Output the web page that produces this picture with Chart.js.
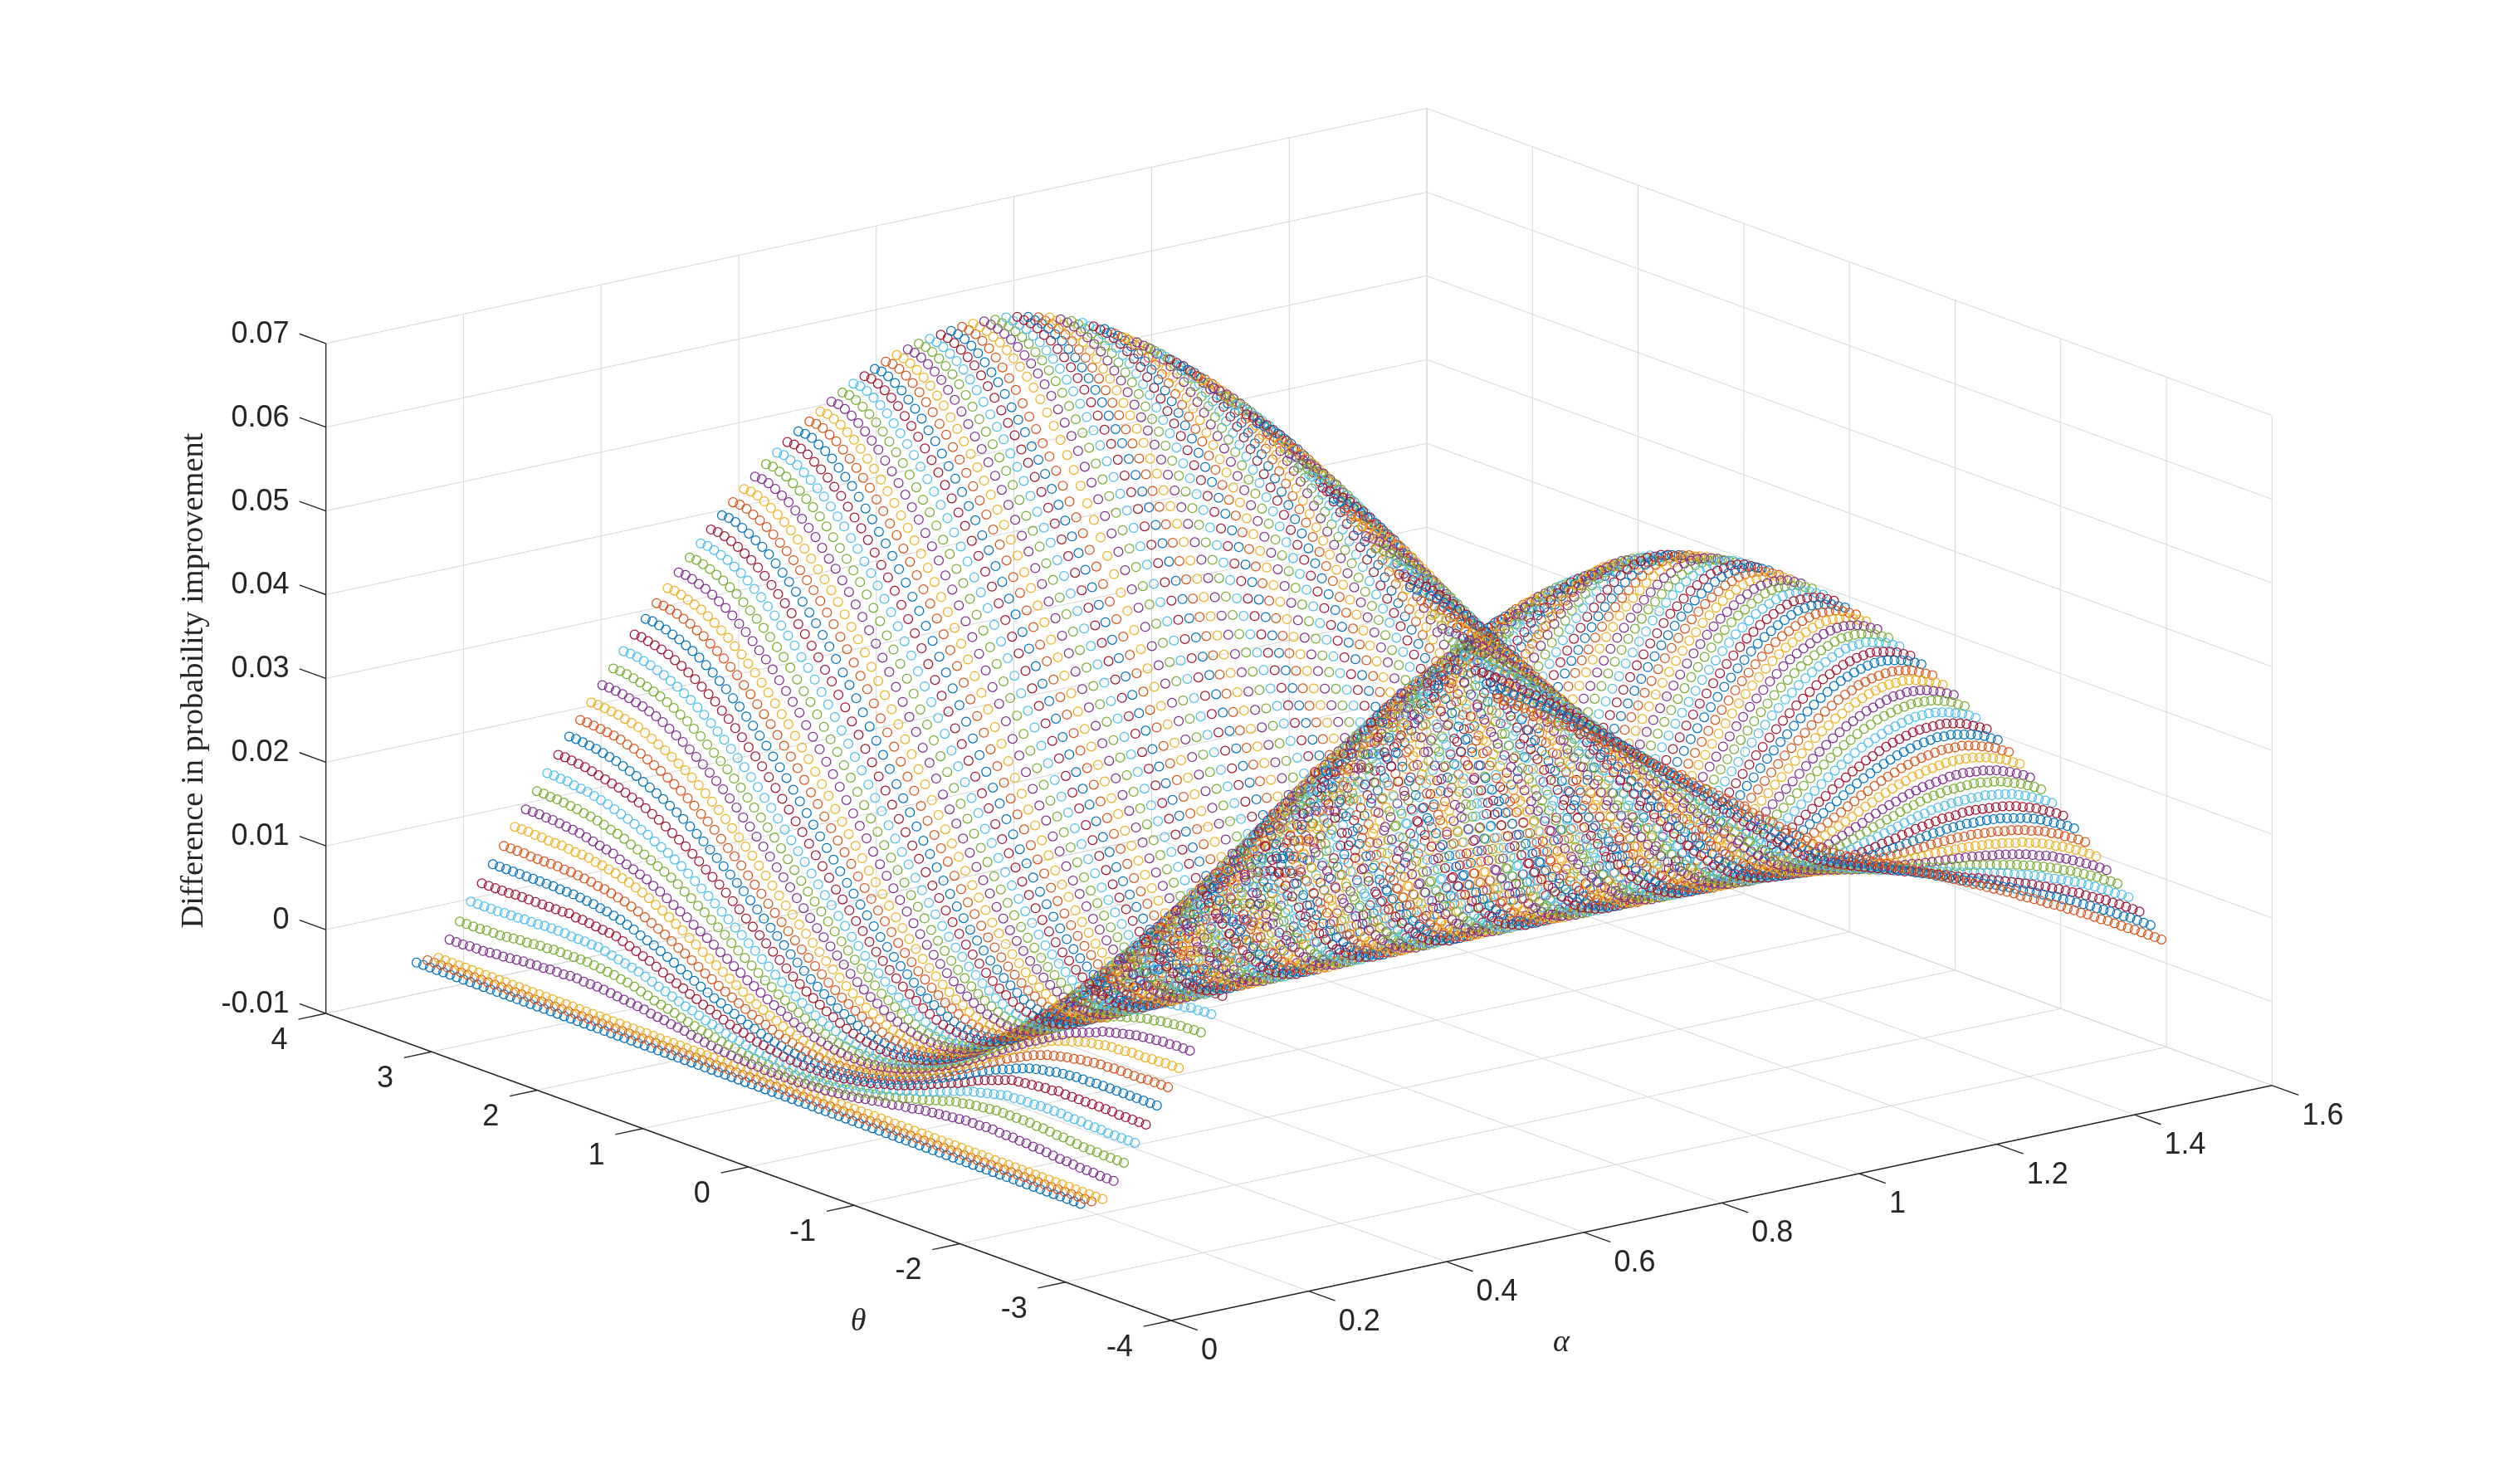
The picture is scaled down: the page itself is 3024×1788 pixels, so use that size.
<!DOCTYPE html>
<html>
<head>
<meta charset="utf-8">
<title>Difference in probability improvement</title>
<script src="https://cdn.jsdelivr.net/npm/chart.js@4"></script>
<style>
html, body { margin: 0; padding: 0; background: #fff; }
canvas { display: block; }
</style>
</head>
<body>
<canvas id="surface" width="3024" height="1788"></canvas>
<script>
const alphas = [0,.016,.032,.048,.063,.079,.095,.111,.127,.143,.159,.175,.190,.206,.222,.238,.254,.270,.286,.301,.317,.333,.349,.365,.381,.397,.413,.428,.444,.460,.476,.492,.508,.524,.539,.555,.571,.587,.603,.619,.635,.651,.666,.682,.698,.714,.730,.746,.762,.777,.793,.809,.825,.841,.857,.873,.889,.904,.920,.936,.952,.968,.984,1.000,1.015,1.031,1.047,1.063,1.079,1.095,1.111,1.127,1.142,1.158,1.174,1.190,1.206,1.222,1.238,1.253,1.269,1.285,1.301,1.317,1.333,1.349,1.365,1.380,1.396,1.412,1.428,1.444,1.460,1.476,1.491,1.507,1.523,1.539,1.555,1.571];
const thetas = [-3.142,-3.078,-3.015,-2.951,-2.888,-2.824,-2.761,-2.698,-2.634,-2.570,-2.507,-2.443,-2.380,-2.316,-2.253,-2.190,-2.126,-2.063,-1.999,-1.936,-1.872,-1.809,-1.745,-1.682,-1.618,-1.555,-1.491,-1.428,-1.364,-1.301,-1.237,-1.174,-1.110,-1.047,-0.983,-0.920,-0.856,-0.793,-0.729,-0.666,-0.603,-0.539,-0.476,-0.412,-0.349,-0.285,-0.222,-0.159,-0.095,-0.032,0.032,0.095,0.159,0.222,0.285,0.349,0.412,0.476,0.539,0.603,0.666,0.729,0.793,0.856,0.920,0.983,1.047,1.110,1.174,1.237,1.301,1.364,1.428,1.491,1.555,1.618,1.682,1.745,1.809,1.872,1.936,1.999,2.063,2.126,2.190,2.253,2.316,2.380,2.443,2.507,2.570,2.634,2.698,2.761,2.824,2.888,2.951,3.015,3.078,3.142];

// estimates, in units of 0.0001, one row per alpha
// only theta<0 is typed, the surface reads the same on the other side of theta=0
const zHalf = [
[0,0,0,0,0,0,0,0,0,0,0,0,0,0,0,0,0,0,0,0,0,0,0,0,0,0,0,0,0,0,0,0,0,0,0,0,0,0,0,0,0,0,0,0,0,0,0,0,0,0],
[0,0,0,0,0,0,0,0,0,0,0,0,0,0,0,0,0,0,0,0,0,0,0,0,0,0,0,0,0,0,0,0,0,0,0,0,0,0,0,0,0,0,0,0,0,0,0,0,0,0],
[0,0,0,0,0,0,0,0,0,0,0,0,0,0,0,0,0,0,0,0,0,0,0,0,0,0,0,0,0,0,0,0,0,0,0,0,0,0,0,0,0,0,0,0,0,0,0,0,0,0],
[19,19,19,20,20,20,21,22,22,23,24,25,25,26,26,27,27,27,28,28,27,27,27,26,25,24,23,22,21,20,18,17,16,14,13,12,10,9,7,6,5,4,3,2,2,1,1,0,0,0],
[38,38,38,38,39,39,39,40,41,42,42,43,44,44,45,45,45,45,45,45,44,43,42,41,39,38,36,33,31,28,26,24,22,19,17,15,13,12,10,8,7,6,4,3,2,2,1,0,0,0],
[59,59,59,59,59,60,60,60,61,61,61,62,62,62,62,61,61,61,60,60,58,56,54,52,50,48,45,42,39,36,33,30,27,25,22,19,17,15,12,10,9,7,5,4,3,2,1,1,0,0],
[78,78,78,78,78,79,79,79,79,79,79,79,79,80,78,78,77,76,75,74,73,70,67,64,61,58,54,50,46,43,40,36,33,29,26,23,20,17,15,13,10,8,7,5,4,2,1,1,0,0],
[98,98,98,98,98,98,98,98,98,98,97,97,97,96,95,94,92,91,89,87,84,81,77,74,71,67,63,59,54,50,46,42,38,34,31,27,24,20,17,15,12,10,8,6,4,3,2,1,0,0],
[117,117,117,117,116,116,116,116,116,115,115,114,113,112,110,109,107,105,103,100,97,93,89,85,81,76,71,67,62,57,52,48,43,39,35,31,27,23,20,17,14,11,9,7,5,3,2,1,0,0],
[137,137,137,136,136,135,135,135,134,133,133,132,130,129,127,125,122,120,117,114,110,105,101,96,91,86,80,75,69,64,59,54,49,44,39,34,30,26,22,19,15,12,10,7,5,4,2,1,0,0],
[155,155,155,154,154,153,152,151,150,148,146,144,142,140,136,133,130,127,124,119,115,110,105,100,96,90,85,80,75,69,64,58,53,47,43,38,33,29,25,21,17,14,11,8,6,4,2,1,0,0],
[174,174,173,173,172,171,170,168,167,165,163,160,158,155,151,148,145,141,137,133,129,124,118,113,107,102,96,90,84,77,71,65,59,53,47,42,36,32,27,23,19,15,12,9,6,4,3,1,0,0],
[193,193,192,192,190,189,188,186,184,182,179,176,173,170,166,163,158,154,150,145,140,134,128,122,116,110,103,97,90,84,77,71,64,58,51,45,40,34,29,25,20,16,13,10,7,5,3,1,0,0],
[212,212,211,210,209,207,205,203,201,199,196,193,190,186,182,178,173,168,163,158,152,146,139,133,127,120,113,106,98,91,84,77,70,63,56,49,43,37,32,27,22,18,14,10,7,5,3,2,0,0],
[231,231,230,229,228,226,224,222,219,216,213,209,205,201,197,192,187,182,176,170,164,157,150,143,136,129,122,114,106,98,90,83,75,67,60,53,46,40,34,29,23,19,15,11,8,5,3,2,0,0],
[248,248,247,246,245,244,242,239,237,234,230,226,222,217,212,207,201,195,188,182,175,167,159,152,144,135,127,119,110,102,94,86,78,70,63,56,49,42,36,30,25,20,16,12,9,6,3,2,1,0],
[266,266,265,264,263,261,259,257,253,249,245,241,236,231,226,220,214,207,200,193,185,177,169,161,153,144,135,126,117,108,100,91,83,75,67,59,52,45,38,32,26,21,17,13,9,6,4,2,1,0],
[284,284,283,282,280,278,276,273,270,266,261,256,251,245,239,233,226,219,212,204,196,187,179,170,161,152,142,133,124,114,105,96,87,79,71,63,55,47,40,34,28,23,18,13,10,6,4,2,1,0],
[301,301,300,298,296,294,291,288,284,280,275,270,264,258,251,244,237,230,222,214,205,196,187,178,169,159,149,139,129,119,110,101,92,83,74,66,58,50,43,36,29,24,19,14,10,7,4,2,1,0],
[319,319,318,316,314,311,308,304,300,295,290,284,278,271,264,257,249,241,233,224,215,205,196,186,176,166,156,146,135,125,115,106,96,87,77,69,60,52,45,38,31,25,20,15,11,7,4,2,1,0],
[336,336,334,332,330,327,323,319,314,309,303,297,291,283,276,268,260,251,243,234,224,214,204,194,183,173,162,151,141,130,119,110,100,90,81,71,62,54,46,39,32,26,21,15,11,7,4,2,1,0],
[352,352,350,348,345,342,338,334,329,323,317,310,303,295,288,279,271,262,253,243,233,223,212,201,190,179,168,157,146,135,124,114,104,94,84,74,65,56,48,41,34,27,21,16,12,8,5,2,1,0],
[368,368,366,364,361,358,353,349,343,337,331,324,317,308,300,291,282,273,263,253,243,232,221,209,198,186,175,163,152,141,129,118,108,97,87,77,67,58,50,42,35,28,22,16,12,8,5,2,1,0],
[383,383,381,378,375,372,367,362,356,350,343,336,328,320,311,302,292,282,273,262,251,240,228,216,205,192,180,168,157,145,133,122,111,100,89,79,69,60,51,43,36,29,23,17,13,8,5,2,1,0],
[399,399,397,394,391,387,382,377,371,364,357,349,341,333,324,314,304,294,284,272,261,249,237,225,213,200,187,175,163,150,138,127,115,104,93,82,72,62,53,45,37,30,24,18,13,9,5,3,1,0],
[414,414,412,409,405,401,396,391,384,377,370,362,354,345,336,326,315,304,294,282,270,258,246,233,221,207,194,181,168,155,143,131,119,107,96,85,74,64,55,46,38,31,24,18,13,9,5,3,1,0],
[428,428,426,423,420,415,410,404,397,390,382,374,365,356,347,336,326,315,303,291,279,266,253,240,227,213,200,187,173,160,147,135,122,110,98,87,76,66,56,48,39,32,25,19,13,9,5,3,1,0],
[442,442,440,437,433,428,423,417,410,402,394,386,377,367,358,347,336,324,313,300,288,274,261,247,234,220,206,192,178,165,152,139,126,113,101,89,78,67,57,48,40,32,25,19,14,9,5,3,1,0],
[456,456,454,450,446,441,436,430,422,414,406,397,388,378,368,357,346,334,321,309,296,282,268,254,240,226,211,197,183,169,155,142,129,116,103,91,80,69,59,50,41,33,26,20,14,9,6,3,1,0],
[469,469,467,463,459,454,448,441,434,426,417,408,399,389,378,367,355,343,330,317,304,290,275,261,247,232,217,203,188,173,159,146,133,119,106,93,82,71,60,51,42,34,27,20,14,10,6,3,1,0],
[482,482,480,476,471,466,460,453,445,437,428,418,409,399,388,376,364,352,339,325,311,297,283,268,253,238,223,208,192,177,163,149,136,122,108,96,84,72,62,52,43,35,27,21,15,10,6,3,1,0],
[494,494,492,488,483,478,471,464,456,448,438,428,419,408,397,385,373,360,347,333,319,304,289,274,259,243,228,212,196,181,167,152,138,124,111,98,85,74,63,53,44,35,28,21,15,10,6,3,1,0],
[506,506,503,500,495,489,482,475,467,458,448,438,428,417,406,394,381,368,354,340,326,311,296,280,265,249,233,217,201,185,170,155,141,127,113,100,87,75,64,54,45,36,28,21,15,10,6,3,1,0],
[517,517,514,511,505,499,492,485,476,467,458,447,437,425,414,402,389,376,362,347,333,317,302,286,270,254,237,221,205,189,174,158,144,129,115,102,89,77,66,55,45,37,29,22,15,10,6,3,1,0],
[527,527,525,521,515,509,502,494,486,476,466,456,445,433,421,409,396,382,368,354,339,323,307,291,275,258,242,225,209,192,177,161,146,132,118,104,91,78,67,56,46,37,30,22,16,11,6,3,1,0],
[537,537,535,530,525,519,511,503,495,485,474,464,452,441,429,416,403,389,375,360,345,329,313,297,280,263,246,229,212,196,180,164,149,134,120,106,92,80,68,57,47,38,30,23,16,11,6,3,1,0],
[546,546,544,539,534,527,519,511,502,493,482,471,459,448,435,422,409,395,381,366,350,334,318,301,284,267,250,233,216,199,183,167,152,136,122,108,94,81,69,58,48,39,31,23,16,11,7,3,1,0],
[555,555,552,548,542,536,528,519,510,500,489,478,466,454,442,429,415,401,386,371,355,339,323,306,289,272,254,237,219,202,186,170,154,139,124,109,95,83,70,59,49,39,31,23,17,11,7,3,1,0],
[564,564,561,556,550,543,535,527,517,507,496,485,473,461,448,435,421,406,392,376,360,344,327,310,293,276,258,240,223,206,189,172,157,141,126,111,97,84,72,60,50,40,32,24,17,11,7,3,1,0],
[572,572,569,564,558,551,543,534,524,514,503,491,479,467,454,440,426,411,397,381,365,349,332,315,297,280,262,243,226,208,191,175,159,143,128,113,98,85,73,61,50,41,32,24,17,11,7,3,1,0],
[580,580,577,572,566,559,550,541,531,521,510,498,486,473,460,446,432,417,401,386,370,353,336,319,301,283,265,248,229,211,194,177,161,145,129,114,100,86,74,62,51,41,32,24,17,12,7,3,1,0],
[586,586,583,578,572,565,556,547,537,526,515,503,491,478,464,451,436,421,405,390,373,356,339,322,304,286,268,250,232,214,196,179,163,146,131,115,101,87,74,63,52,42,33,25,18,12,7,4,1,0],
[592,592,589,584,578,570,562,553,542,532,520,508,496,483,469,455,440,425,409,393,376,360,342,325,307,289,271,253,234,216,198,181,165,148,132,117,102,88,75,63,52,42,33,25,18,12,7,4,1,0],
[598,598,595,590,584,576,567,558,547,537,525,513,500,487,473,459,444,429,413,396,380,362,345,327,310,291,273,255,236,218,200,183,166,149,133,118,103,89,76,64,53,42,33,25,18,12,7,4,1,0],
[603,602,599,594,588,581,572,563,552,541,529,517,504,491,477,462,447,432,416,399,383,365,348,330,312,293,275,256,238,220,201,184,167,151,134,119,104,90,77,65,53,43,34,25,18,12,7,4,1,0],
[607,606,603,598,592,585,576,567,556,544,532,520,507,494,480,465,450,434,418,401,385,367,350,332,314,295,277,258,239,221,203,185,168,152,135,120,104,90,77,65,53,43,34,25,18,12,7,4,1,0],
[611,610,607,602,596,589,580,570,559,547,535,523,510,497,483,468,452,437,421,404,387,369,352,334,315,297,278,259,241,222,204,186,169,152,136,120,105,91,78,65,54,43,34,26,18,12,7,4,1,0],
[614,613,610,605,599,592,583,573,562,550,538,526,512,499,485,470,454,438,423,405,389,371,353,335,317,298,279,260,242,223,205,187,170,153,137,121,106,91,78,66,54,44,34,26,18,12,7,4,1,0],
[616,615,612,607,601,594,585,575,564,552,540,528,514,501,487,472,456,440,424,407,390,372,354,336,318,299,280,261,242,224,205,188,171,153,137,121,106,92,78,66,54,44,35,26,18,12,7,4,1,0],
[618,617,614,609,603,595,586,577,566,553,541,529,515,502,488,473,457,441,425,408,391,373,355,337,319,300,281,262,243,225,206,188,171,154,138,122,106,92,78,66,54,44,35,26,19,12,7,4,1,0],
[620,619,617,612,606,598,589,579,568,555,542,530,516,503,489,474,458,442,426,409,392,374,356,338,320,301,282,263,244,226,207,189,172,155,138,122,107,92,79,66,55,44,35,26,19,12,7,4,1,0],
[621,620,618,614,610,604,597,590,581,571,560,547,534,520,505,490,474,456,439,421,402,383,364,345,325,305,285,266,246,227,208,190,172,155,138,122,107,92,79,66,55,44,35,26,19,12,7,4,1,0],
[621,620,618,615,611,605,598,591,582,572,561,548,535,522,507,491,475,458,441,423,404,385,365,346,326,306,286,267,247,228,209,191,173,156,139,123,107,93,80,67,55,45,35,27,19,13,8,4,1,0],
[620,619,618,615,611,606,599,592,583,573,562,549,536,523,508,492,476,459,442,424,405,386,366,347,327,307,287,267,247,228,209,191,173,156,139,123,108,93,80,67,55,45,35,27,19,13,8,4,1,0],
[620,619,617,615,610,605,598,591,582,572,561,549,536,523,508,492,476,459,442,424,405,386,366,347,327,307,286,267,247,228,209,191,173,156,139,123,108,93,80,67,55,45,35,27,19,13,8,4,1,0],
[618,617,616,613,608,604,597,590,581,571,560,548,535,521,507,491,475,458,441,423,404,385,365,346,326,306,286,266,247,228,209,190,172,155,138,123,108,93,80,67,55,45,35,27,19,13,8,5,2,1],
[615,614,613,610,606,601,594,587,578,568,557,545,532,519,505,489,473,456,440,422,403,384,364,345,325,305,285,266,246,227,208,190,172,155,138,122,107,93,79,67,55,44,35,26,19,13,8,5,2,1],
[612,611,610,607,603,598,591,584,575,565,554,542,530,516,502,487,471,454,438,420,401,382,363,343,324,304,284,264,244,225,206,188,171,154,137,121,106,92,79,66,55,44,35,26,19,13,8,5,2,1],
[609,608,606,603,599,594,587,580,571,562,551,539,527,514,500,484,469,452,436,418,399,380,361,342,322,302,282,263,243,224,205,187,170,153,136,121,106,92,78,66,55,44,35,26,19,13,8,5,2,1],
[604,603,601,598,594,589,583,575,566,557,546,534,522,509,495,480,465,449,432,415,396,378,359,339,320,300,280,261,241,222,204,186,168,152,135,120,105,91,78,65,54,44,34,26,19,13,8,5,2,1],
[599,598,596,593,589,584,578,570,561,552,541,529,517,505,491,476,461,445,428,411,393,375,356,337,318,298,279,259,240,221,203,185,167,150,134,119,104,90,77,65,54,43,34,26,19,13,8,5,2,1],
[594,593,592,589,585,579,573,566,557,547,537,525,513,500,486,470,455,439,423,405,387,369,351,332,314,295,276,258,239,221,203,185,168,152,136,120,106,91,79,67,55,45,35,27,20,14,9,5,2,0],
[587,586,585,582,578,572,566,559,550,540,530,518,506,494,480,465,450,434,418,401,383,365,347,329,311,292,273,255,237,219,201,183,167,151,135,119,105,90,78,66,55,44,34,26,19,13,8,5,2,0],
[581,580,579,576,572,566,560,553,544,534,524,513,501,488,474,460,445,429,413,396,379,361,343,325,307,288,270,252,234,216,198,181,165,149,133,118,104,89,77,65,54,43,34,26,19,13,8,4,2,0],
[573,572,571,568,564,559,553,545,537,527,517,506,494,482,468,454,439,424,408,391,374,356,339,321,303,285,267,249,231,213,196,179,163,147,132,117,103,88,76,64,53,43,33,25,19,13,8,4,2,0],
[565,564,563,560,556,551,545,538,529,520,510,499,487,475,461,448,433,418,402,386,369,352,334,317,299,281,263,246,228,211,193,177,161,145,130,115,101,87,75,63,52,42,33,25,18,13,8,4,2,0],
[557,556,555,552,548,543,537,530,521,512,502,491,480,468,455,441,427,412,396,380,364,347,330,313,295,277,260,243,225,208,191,175,159,144,128,114,100,86,74,63,52,41,32,25,18,12,8,4,2,0],
[548,547,546,543,539,535,529,522,513,504,494,484,473,461,448,434,420,405,390,374,358,342,325,308,291,273,256,239,222,205,188,172,157,142,127,112,99,85,73,62,51,41,32,24,18,12,8,4,2,0],
[538,537,536,533,529,525,519,512,504,495,486,475,464,453,440,427,413,399,384,368,352,336,320,303,286,269,252,235,218,202,185,170,154,140,125,111,97,84,72,61,50,40,32,24,17,12,8,4,2,0],
[528,527,526,523,520,515,510,503,495,486,477,467,456,445,432,419,406,392,377,362,347,331,315,298,281,265,248,231,215,199,182,167,152,138,123,109,96,83,71,60,49,40,31,24,17,12,7,4,2,0],
[517,516,515,512,509,505,499,493,485,476,467,457,447,436,424,411,398,384,370,355,340,325,309,293,276,260,243,227,211,195,179,164,149,135,121,107,94,82,70,59,49,39,31,23,17,12,7,4,2,0],
[506,505,504,502,498,494,489,482,475,466,457,448,438,427,415,403,390,377,363,348,334,319,303,287,271,255,239,223,207,192,176,161,147,133,119,106,93,80,69,58,48,39,31,23,17,12,7,4,2,0],
[495,494,493,491,487,483,478,472,464,456,448,438,429,418,407,395,382,369,356,342,327,312,297,282,266,251,235,219,204,188,173,158,144,130,117,104,91,79,68,57,47,38,30,23,17,11,7,4,2,0],
[483,482,481,479,476,472,467,461,454,446,437,428,419,409,398,386,374,361,348,335,320,306,291,276,261,246,231,215,200,185,170,156,142,128,115,102,90,78,67,57,47,38,30,23,16,11,7,4,2,0],
[470,469,468,466,463,459,454,449,442,434,426,417,408,398,387,376,364,352,339,326,312,298,284,270,255,240,225,210,195,181,166,152,139,125,112,100,88,76,65,55,46,37,29,22,16,11,7,4,2,0],
[457,456,455,453,450,447,442,437,431,423,415,406,398,388,378,367,355,344,331,319,305,292,278,264,249,235,220,206,191,177,163,149,136,123,110,98,86,75,64,54,45,37,29,22,16,11,7,4,2,0],
[443,442,441,439,436,433,429,423,417,410,403,394,386,377,367,356,345,334,322,310,297,284,270,257,243,229,215,201,187,173,159,146,133,120,108,96,84,73,63,53,44,36,29,22,16,11,7,4,2,0],
[430,429,428,426,423,420,416,411,405,398,391,383,375,366,356,346,335,324,313,301,288,276,263,250,236,222,209,195,182,168,155,142,130,117,105,94,83,72,62,52,44,35,28,21,16,11,7,4,2,0],
[414,413,412,411,408,405,401,396,390,384,377,370,361,353,344,334,324,313,302,290,278,266,254,241,228,215,202,189,176,163,150,138,126,114,102,91,80,70,60,51,43,35,28,21,15,11,7,4,2,1],
[400,399,398,396,394,391,387,382,377,371,364,357,349,341,332,322,313,302,292,281,269,257,245,233,220,208,195,183,170,158,146,134,122,111,99,88,78,68,58,50,42,34,27,21,15,11,7,4,2,1],
[385,384,383,381,379,376,372,368,362,357,350,343,335,328,319,310,301,291,281,270,259,248,236,224,212,200,188,176,164,152,140,129,118,107,96,85,75,66,57,48,41,33,26,20,15,10,7,4,2,1],
[369,368,368,366,364,361,357,353,348,342,336,329,322,315,306,298,289,279,270,259,249,238,227,216,204,192,181,169,158,147,135,124,114,103,93,83,73,64,55,47,39,32,26,20,15,10,7,4,2,1],
[352,352,351,349,347,344,341,337,332,327,321,314,307,300,292,284,276,267,258,248,238,228,217,206,195,184,173,162,151,141,130,119,109,99,89,79,70,62,53,46,38,31,25,19,14,10,7,4,2,1],
[336,335,334,333,331,328,325,321,316,311,306,300,293,286,279,271,263,254,246,236,227,217,207,197,186,176,165,155,145,134,124,114,105,95,86,77,68,60,52,44,37,30,24,19,14,10,6,4,2,1],
[320,319,319,317,315,312,309,306,301,297,291,285,279,272,265,258,250,242,234,225,216,207,197,187,177,167,157,148,138,128,119,109,100,91,82,73,65,57,50,43,36,30,24,18,14,10,6,4,2,1],
[303,302,302,300,298,296,293,290,285,281,276,270,264,258,251,244,237,229,221,213,204,195,187,177,168,158,149,140,131,122,113,104,96,87,79,71,63,55,48,42,35,29,23,18,13,9,6,4,2,1],
[286,285,285,283,281,279,276,273,269,265,260,255,249,243,237,230,224,216,209,201,193,185,176,168,159,150,141,133,124,116,107,99,91,83,75,67,60,53,46,40,33,28,22,17,13,9,6,4,2,1],
[267,267,266,265,263,261,258,255,251,247,243,238,233,227,221,215,209,202,195,188,180,173,165,157,149,140,132,124,116,108,100,93,85,78,70,63,56,50,44,38,32,27,21,17,13,9,6,4,2,1],
[250,250,249,248,246,244,242,239,235,232,228,223,218,213,208,202,196,190,183,176,169,162,154,147,139,132,124,117,109,102,95,88,81,74,67,60,54,48,42,36,31,26,21,16,12,9,6,4,2,1],
[231,231,230,229,228,226,224,221,218,214,211,206,202,197,192,187,181,176,170,163,157,150,143,136,129,122,115,108,102,95,88,82,75,69,63,57,51,45,39,34,29,24,20,16,12,8,6,4,2,1],
[213,213,212,211,210,208,206,204,201,198,194,190,186,182,178,173,167,162,157,151,145,139,133,126,120,113,107,101,94,88,82,76,70,64,58,53,47,42,37,32,28,23,19,15,11,8,5,3,2,1],
[195,195,194,193,192,191,189,187,184,181,178,175,171,167,163,158,154,149,144,139,133,128,122,116,110,104,98,93,87,82,76,71,65,60,55,50,45,40,35,31,26,22,18,14,11,8,5,3,2,1],
[176,176,175,174,174,172,171,169,166,164,161,158,154,151,147,143,139,135,130,126,121,116,111,106,100,95,90,85,80,75,70,65,60,55,50,46,41,37,33,29,25,21,17,14,10,8,5,3,2,1],
[156,156,156,155,154,153,151,150,148,146,143,141,137,134,131,127,124,120,116,112,108,103,99,94,90,85,80,76,71,67,62,58,54,50,45,41,37,33,30,26,23,19,16,13,10,7,5,3,2,1],
[137,137,137,136,135,134,133,131,130,128,125,123,121,118,115,112,109,105,102,98,95,91,87,83,79,75,71,67,63,60,56,52,48,45,41,37,34,30,27,24,21,18,15,12,9,7,5,3,2,1],
[118,118,117,117,116,115,114,113,111,110,108,106,104,102,99,97,94,91,88,85,82,79,76,72,69,66,62,59,56,53,49,46,43,40,37,33,30,27,25,22,19,16,14,11,9,6,4,3,2,1],
[99,99,98,98,97,97,96,95,94,92,91,89,87,86,84,82,79,77,75,72,70,67,64,62,59,56,53,51,48,45,43,40,37,35,32,29,27,24,22,20,17,15,12,10,8,6,4,3,2,1],
[79,79,79,79,78,78,77,76,75,75,73,72,71,69,68,66,65,63,61,59,57,55,53,51,49,46,44,42,40,38,36,34,32,30,28,25,23,21,19,17,15,13,11,9,7,5,4,3,1,1],
[60,60,60,60,59,59,59,58,57,57,56,55,55,53,53,51,50,49,48,46,45,44,42,41,39,37,36,34,32,31,29,28,26,25,23,21,20,18,16,15,13,11,10,8,6,5,3,2,1,0],
[40,40,40,40,40,39,39,39,39,38,38,38,37,37,36,36,35,34,34,33,32,31,31,30,29,28,27,26,25,24,23,22,21,20,19,18,17,15,14,13,12,11,9,8,7,6,4,3,2,1]
];

const alphaTicks = [0, 0.2, 0.4, 0.6, 0.8, 1, 1.2, 1.4, 1.6];
const thetaTicks = [-4, -3, -2, -1, 0, 1, 2, 3, 4];
const zTicks = [-0.01, 0, 0.01, 0.02, 0.03, 0.04, 0.05, 0.06, 0.07];
const zTickLabels = ["-0.01", "0", "0.01", "0.02", "0.03", "0.04", "0.05", "0.06", "0.07"];
const matlabColors = ["#0072BD", "#D95319", "#EDB120", "#7E2F8E", "#77AC30", "#4DBEEE", "#A2142F"];

const GRID = "#d6d6d6";
const AXIS = "#262626";

// view of the 3d box, in page pixels
function project(a, t, z) {
    return {
        x: 1411 + 829 * a - 127.3 * (t + 4),
        y: 1591 - 177 * a - 46.25 * (t + 4) - 10090 * (z + 0.01)
    };
}

function lineSet(from, to, color) {
    return {
        data: [project(from[0], from[1], from[2]), project(to[0], to[1], to[2])],
        showLine: true,
        borderColor: color,
        borderWidth: color === GRID ? 1 : 1.4,
        pointRadius: 0,
        order: color === GRID ? 1000 : 999,
        clip: false
    };
}

let datasets = [];
const zMin = -0.01, zMax = 0.07;
// floor and back walls
alphaTicks.forEach(function (a) {
    datasets.push(lineSet([a, -4, zMin], [a, 4, zMin], GRID));
    datasets.push(lineSet([a, 4, zMin], [a, 4, zMax], GRID));
});
thetaTicks.forEach(function (t) {
    datasets.push(lineSet([0, t, zMin], [1.6, t, zMin], GRID));
    datasets.push(lineSet([1.6, t, zMin], [1.6, t, zMax], GRID));
});
zTicks.forEach(function (z) {
    datasets.push(lineSet([0, 4, z], [1.6, 4, z], GRID));
    datasets.push(lineSet([1.6, 4, z], [1.6, -4, z], GRID));
});
// dark axes and their ticks
datasets.push(lineSet([0, 4, zMin], [0, 4, zMax], AXIS));
datasets.push(lineSet([0, -4, zMin], [0, 4, zMin], AXIS));
datasets.push(lineSet([0, -4, zMin], [1.6, -4, zMin], AXIS));
alphaTicks.forEach(function (a) {
    datasets.push(lineSet([a, -4, zMin], [a, -4.25, zMin], AXIS));
});
thetaTicks.forEach(function (t) {
    datasets.push(lineSet([0, t, zMin], [-0.04, t, zMin], AXIS));
});
zTicks.forEach(function (z) {
    datasets.push(lineSet([0, 4, z], [0, 4.25, z], AXIS));
});

zHalf.forEach(function (half, i) {
    const row = half.concat(half.slice().reverse());
    datasets.push({
        data: row.map(function (v, j) {
            return project(alphas[i], thetas[j], v / 10000);
        }),
        showLine: false,
        pointStyle: "circle",
        pointRadius: 5.4,
        pointBorderWidth: 1.25,
        pointBackgroundColor: "rgba(0,0,0,0)",
        pointBorderColor: matlabColors[i % 7],
        order: 100 - i,
        clip: false
    });
});

const tickText = {
    id: "tickText",
    afterDraw: function (chart) {
        const ctx = chart.ctx;
        const sx = chart.scales.x, sy = chart.scales.y;
        function at(a, t, z) {
            const p = project(a, t, z);
            return { x: sx.getPixelForValue(p.x), y: sy.getPixelForValue(p.y) };
        }
        ctx.save();
        ctx.fillStyle = AXIS;
        ctx.font = '36px "Liberation Sans"';
        ctx.textBaseline = "middle";
        ctx.textAlign = "right";
        zTicks.forEach(function (z, i) {
            const p = at(0, 4, z);
            ctx.fillText(zTickLabels[i], p.x - 44, p.y - 11);
        });
        thetaTicks.forEach(function (t) {
            const p = at(0, t, zMin);
            ctx.fillText(String(t), p.x - 46, p.y + 33);
        });
        ctx.textAlign = "left";
        alphaTicks.forEach(function (a) {
            const p = at(a, -4, zMin);
            ctx.fillText(String(a), p.x + 36, p.y + 37);
        });
        ctx.textAlign = "center";
        ctx.font = 'italic 38px "Liberation Serif"';
        ctx.fillText("\u03B8", 1034, 1593);
        ctx.fillText("\u03B1", 1881, 1618);
        ctx.translate(234, 820);
        ctx.rotate(-Math.PI / 2);
        ctx.font = '38.5px "Liberation Serif"';
        ctx.fillText("Difference in probability improvement", 0, 0);
        ctx.restore();
    }
};

new Chart(document.getElementById("surface").getContext("2d"), {
    type: "scatter",
    data: { datasets: datasets },
    options: {
        responsive: false,
        animation: false,
        parsing: false,
        events: [],
        layout: { padding: 0, autoPadding: false },
        plugins: { legend: { display: false }, tooltip: { enabled: false }, title: { display: false } },
        scales: {
            x: { type: "linear", min: 0, max: 3024, display: false },
            y: { type: "linear", min: 0, max: 1788, reverse: true, display: false }
        }
    },
    plugins: [tickText]
});
</script>
</body>
</html>
